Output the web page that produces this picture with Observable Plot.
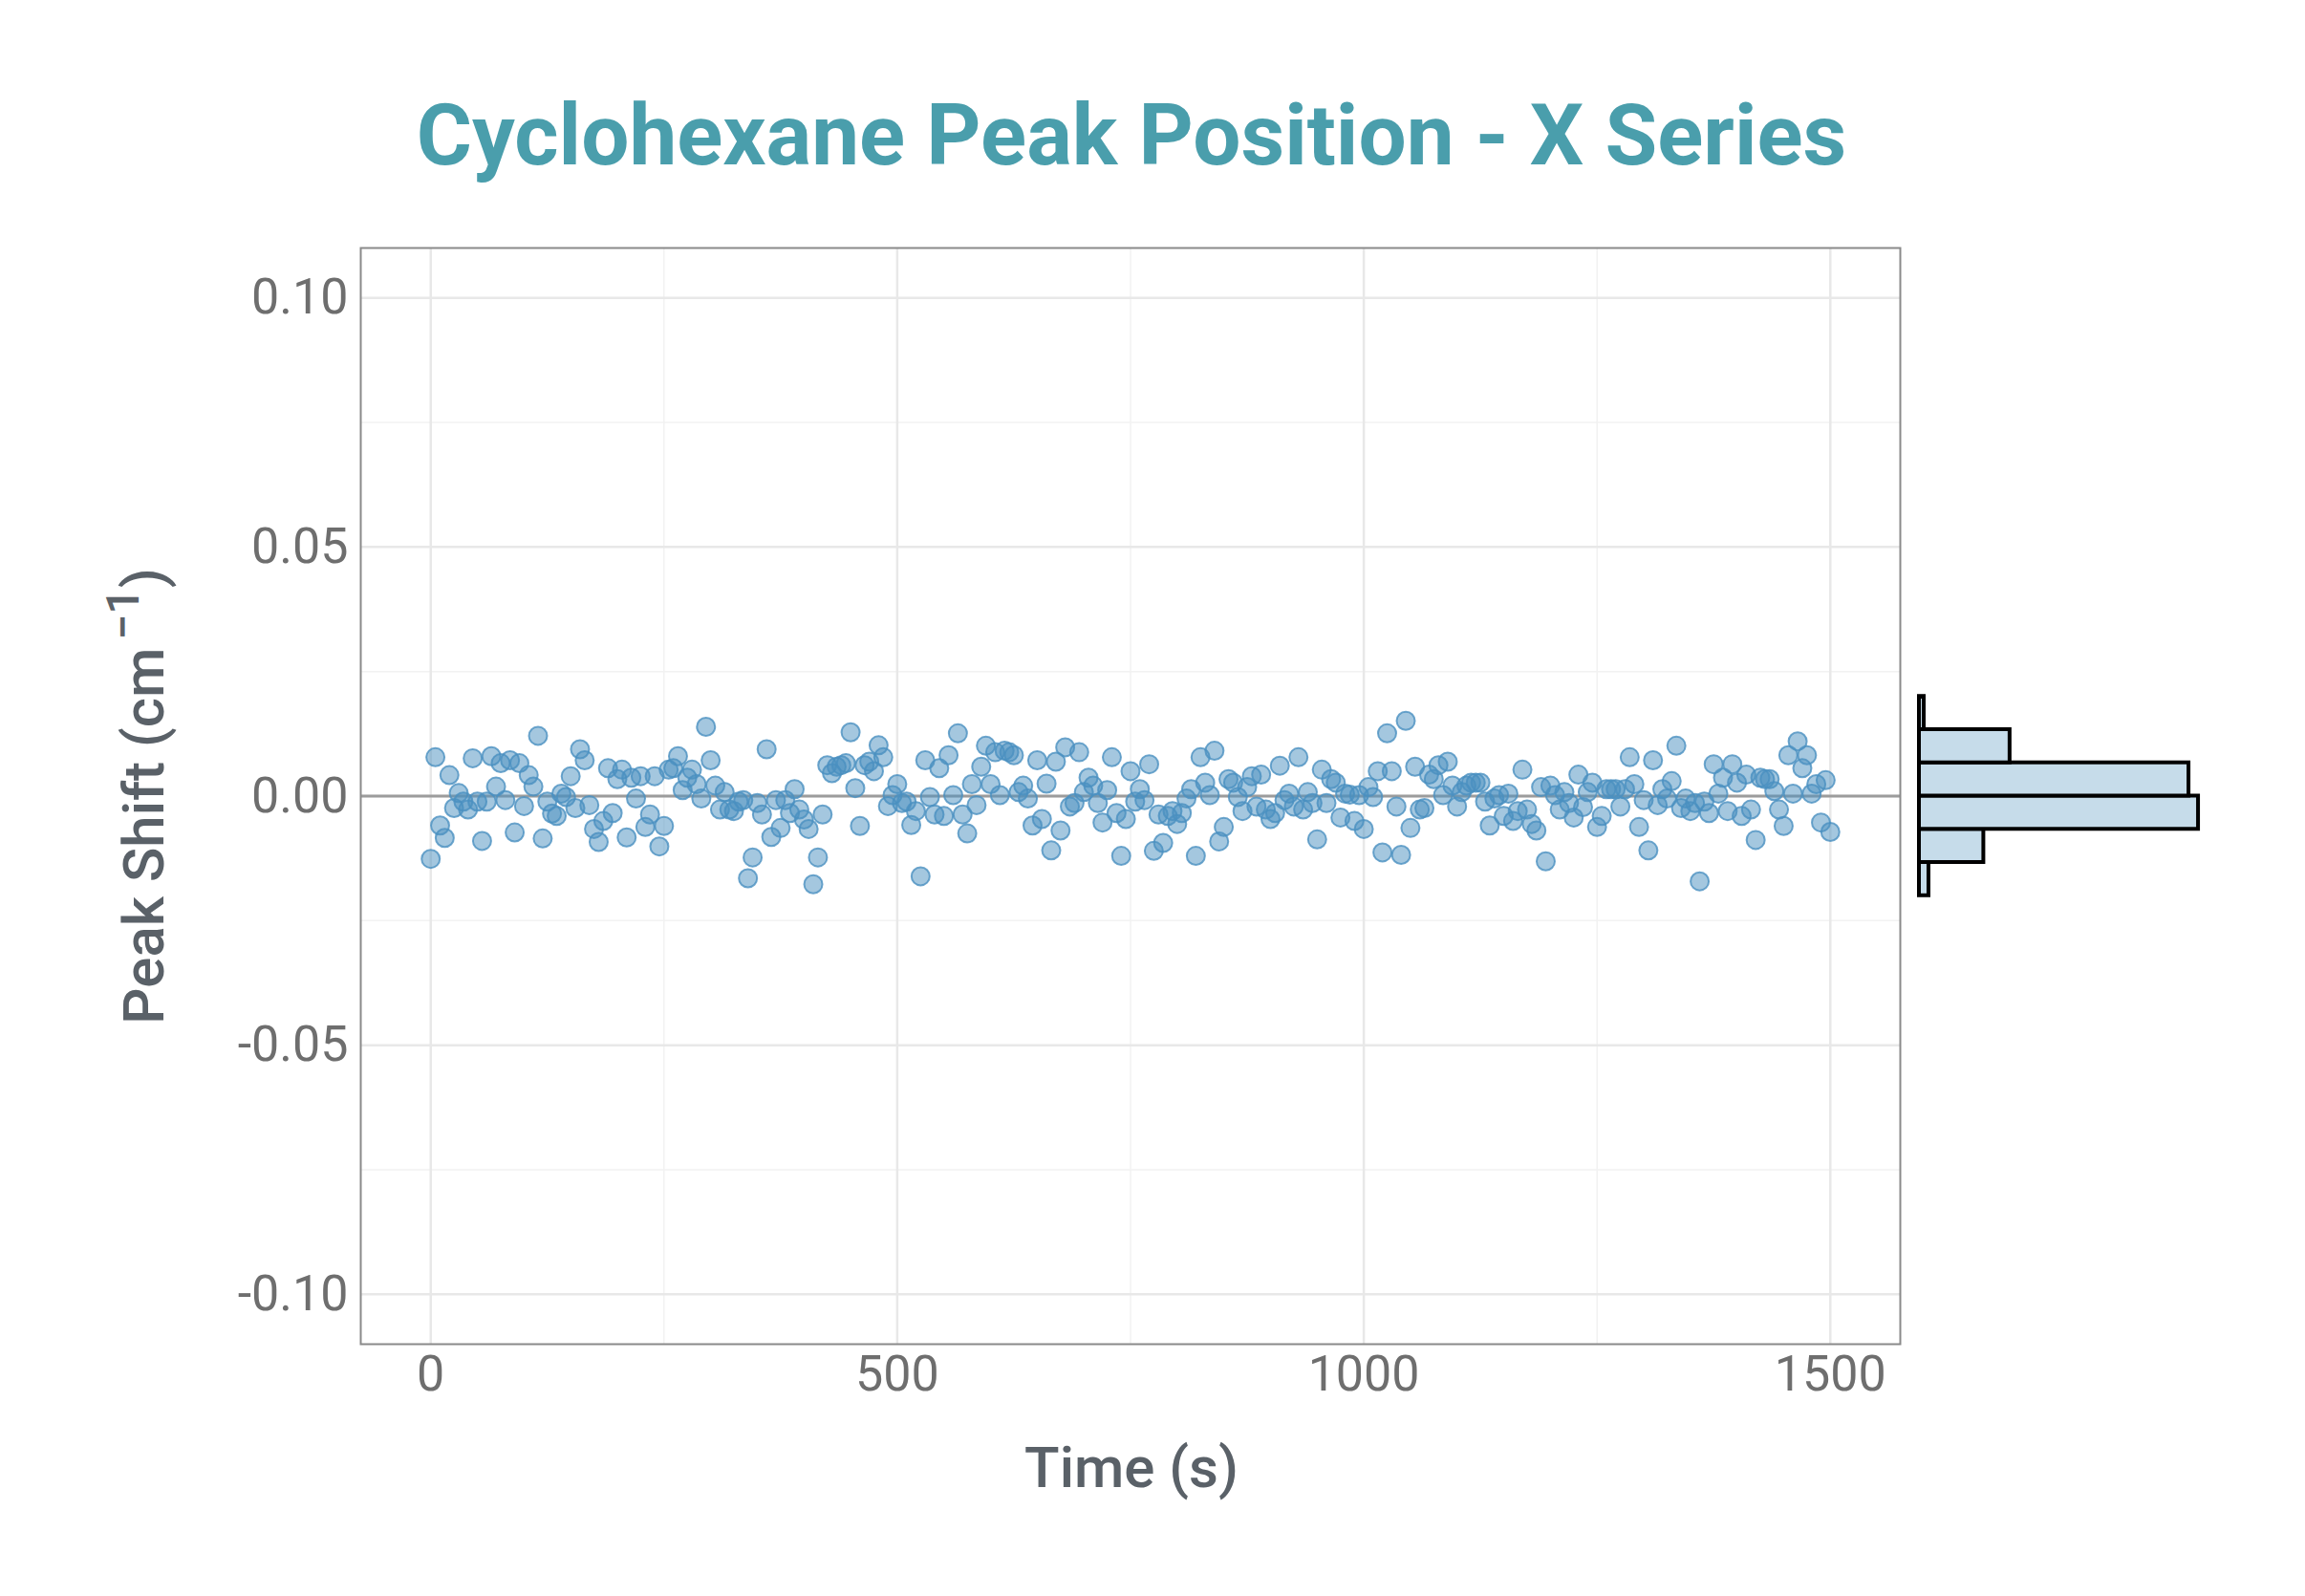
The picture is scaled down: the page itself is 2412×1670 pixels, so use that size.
<!DOCTYPE html>
<html>
<head>
<meta charset="utf-8">
<script src="https://cdn.jsdelivr.net/npm/d3@7"></script>
<script src="https://cdn.jsdelivr.net/npm/@observablehq/plot@0.6"></script>
<style>
html, body { margin: 0; padding: 0; background: #ffffff; }
#wrap { position: relative; width: 2412px; height: 1670px; overflow: hidden; font-family: Roboto, sans-serif; }
#main { position: absolute; left: 0; top: 0; }
#hist { position: absolute; left: 2000px; top: 0; }
</style>
</head>
<body>
<div id="wrap"><div id="main"></div><div id="hist"></div></div>
<script>
// ---- data ----
const titleText = "Cyclohexane Peak Position - X Series";
const xTitle = "Time (s)";
const yTitleMain = "Peak Shift (cm";
const yTitleSup = "\u22121";
const yTitleEnd = ")";

const times = [
  0,5,10,15,20,25,30,35,40,45,50,55,60,65,70,75,80,85,90,95,
  100,105,110,115,120,125,130,135,140,145,150,155,160,165,170,175,180,185,190,195,
  200,205,210,215,220,225,230,235,240,245,250,255,260,265,270,275,280,285,290,295,
  300,305,310,315,320,325,330,335,340,345,350,355,360,365,370,375,380,385,390,395,
  400,405,410,415,420,425,430,435,440,445,450,455,460,465,470,475,480,485,490,495,
  500,505,510,515,520,525,530,535,540,545,550,555,560,565,570,575,580,585,590,595,
  600,605,610,615,620,625,630,635,640,645,650,655,660,665,670,675,680,685,690,695,
  700,705,710,715,720,725,730,735,740,745,750,755,760,765,770,775,780,785,790,795,
  800,805,810,815,820,825,830,835,840,845,850,855,860,865,870,875,880,885,890,895,
  900,905,910,915,920,925,930,935,940,945,950,955,960,965,970,975,980,985,990,995,
  1000,1005,1010,1015,1020,1025,1030,1035,1040,1045,1050,1055,1060,1065,1070,1075,1080,1085,1090,1095,
  1100,1105,1110,1115,1120,1125,1130,1135,1140,1145,1150,1155,1160,1165,1170,1175,1180,1185,1190,1195,
  1200,1205,1210,1215,1220,1225,1230,1235,1240,1245,1250,1255,1260,1265,1270,1275,1280,1285,1290,1295,
  1300,1305,1310,1315,1320,1325,1330,1335,1340,1345,1350,1355,1360,1365,1370,1375,1380,1385,1390,1395,
  1400,1405,1410,1415,1420,1425,1430,1435,1440,1445,1450,1455,1460,1465,1470,1475,1480,1485,1490,1495,
  1500
];

const peakShift = [
  -0.0126, 0.0078, -0.0059, -0.0084, 0.0042, -0.0024, 0.0006, -0.0011, -0.0027, 0.0076,
  -0.0011, -0.0090, -0.0011, 0.0080, 0.0019, 0.0066, -0.0008, 0.0072, -0.0073, 0.0066,
  -0.0020, 0.0042, 0.0019, 0.0121, -0.0085, -0.0011, -0.0035, -0.0040, 0.0005, -0.0002,
  0.0040, -0.0024, 0.0094, 0.0072, -0.0018, -0.0066, -0.0092, -0.0050, 0.0056, -0.0034,
  0.0034, 0.0053, -0.0083, 0.0037, -0.0005, 0.0040, -0.0062, -0.0037, 0.0040, -0.0101,
  -0.0060, 0.0053, 0.0056, 0.0080, 0.0012, 0.0037, 0.0053, 0.0024, -0.0005, 0.0139,
  0.0072, 0.0021, -0.0027, 0.0008, -0.0027, -0.0030, -0.0011, -0.0008, -0.0165, -0.0123,
  -0.0014, -0.0037, 0.0094, -0.0082, -0.0008, -0.0064, -0.0008, -0.0034, 0.0014, -0.0027,
  -0.0047, -0.0066, -0.0177, -0.0123, -0.0037, 0.0062, 0.0046, 0.0059, 0.0062, 0.0066,
  0.0128, 0.0016, -0.0060, 0.0062, 0.0069, 0.0050, 0.0102, 0.0078, -0.0020, 0.0002,
  0.0024, -0.0014, -0.0011, -0.0058, -0.0030, -0.0161, 0.0072, -0.0002, -0.0037, 0.0056,
  -0.0040, 0.0082, 0.0002, 0.0126, -0.0037, -0.0075, 0.0024, -0.0018, 0.0059, 0.0101,
  0.0024, 0.0088, 0.0002, 0.0091, 0.0088, 0.0082, 0.0008, 0.0021, -0.0005, -0.0059,
  0.0072, -0.0046, 0.0025, -0.0109, 0.0069, -0.0069, 0.0098, -0.0021, -0.0014, 0.0088,
  0.0008, 0.0037, 0.0021, -0.0014, -0.0053, 0.0012, 0.0078, -0.0034, -0.0120, -0.0046,
  0.0050, -0.0011, 0.0014, -0.0008, 0.0064, -0.0110, -0.0037, -0.0094, -0.0040, -0.0030,
  -0.0056, -0.0034, -0.0005, 0.0014, -0.0120, 0.0078, 0.0027, 0.0002, 0.0091, -0.0091,
  -0.0062, 0.0034, 0.0027, -0.0002, -0.0030, 0.0018, 0.0040, -0.0021, 0.0043, -0.0027,
  -0.0046, -0.0034, 0.0061, -0.0008, 0.0005, -0.0021, 0.0078, -0.0027, 0.0008, -0.0014,
  -0.0087, 0.0053, -0.0014, 0.0034, 0.0027, -0.0043, 0.0005, 0.0003, -0.0050, 0.0002,
  -0.0066, 0.0018, -0.0002, 0.0050, -0.0113, 0.0126, 0.0050, -0.0021, -0.0118, 0.0151,
  -0.0064, 0.0059, -0.0027, -0.0024, 0.0043, 0.0034, 0.0062, 0.0002, 0.0069, 0.0021,
  -0.0021, 0.0008, 0.0021, 0.0027, 0.0027, 0.0027, -0.0011, -0.0059, -0.0005, 0.0002,
  -0.0040, 0.0005, -0.0050, -0.0030, 0.0053, -0.0027, -0.0056, -0.0069, 0.0018, -0.0131,
  0.0021, 0.0002, -0.0027, 0.0008, -0.0014, -0.0043, 0.0043, -0.0022, 0.0008, 0.0027,
  -0.0062, -0.0040, 0.0014, 0.0014, 0.0014, -0.0021, 0.0014, 0.0078, 0.0024, -0.0062,
  -0.0008, -0.0109, 0.0072, -0.0018, 0.0014, -0.0005, 0.0030, 0.0101, -0.0024, -0.0005,
  -0.0030, -0.0014, -0.0171, -0.0011, -0.0034, 0.0064, 0.0005, 0.0037, -0.0030, 0.0064,
  0.0027, -0.0040, 0.0043, -0.0027, -0.0088, 0.0037, 0.0034, 0.0034, 0.0010, -0.0027,
  -0.0060, 0.0082, 0.0005, 0.0110, 0.0056, 0.0082, 0.0005, 0.0024, -0.0053, 0.0032,
  -0.0072
];

const xTicks = [0, 500, 1000, 1500];
const xMinor = [250, 750, 1250];
const yTicks = [-0.10, -0.05, 0, 0.05, 0.10];
const yMinor = [-0.075, -0.025, 0.025, 0.075];
const histEdges = [-0.02, -0.01333, -0.00667, 0, 0.00667, 0.01333, 0.02];

// ---- build ----
const data = times.map((t, i) => ({t, v: peakShift[i]}));

const X_DOMAIN = [-75, 1575];
const Y_DOMAIN = [-0.11, 0.11];
const M_TOP = 259, M_BOTTOM = 264;

const main = Plot.plot({
  width: 2412,
  height: 1670,
  marginLeft: 377,
  marginRight: 424,
  marginTop: M_TOP,
  marginBottom: M_BOTTOM,
  style: {fontFamily: "Roboto, sans-serif", fontSize: "52px", color: "#6e6e6e", background: "transparent", overflow: "visible"},
  x: {domain: X_DOMAIN},
  y: {domain: Y_DOMAIN},
  marks: [
    Plot.ruleX(xMinor, {stroke: "#f2f2f2", strokeWidth: 1.5}),
    Plot.ruleY(yMinor, {stroke: "#f2f2f2", strokeWidth: 1.5}),
    Plot.ruleX(xTicks, {stroke: "#e8e8e8", strokeWidth: 2.5}),
    Plot.ruleY(yTicks, {stroke: "#e8e8e8", strokeWidth: 2.5}),
    Plot.ruleY([0], {stroke: "#9c9c9c", strokeWidth: 3}),
    Plot.dot(data, {x: "t", y: "v", r: 9.5, fill: "#4a90c0", fillOpacity: 0.5, stroke: "#4a90c0", strokeOpacity: 0.8, strokeWidth: 2}),
    Plot.frame({stroke: "#8a8a8a", strokeWidth: 2}),
    Plot.axisX(xTicks, {tickSize: 0, tickPadding: 12, label: null, tickFormat: d => String(d)}),
    Plot.axisY(yTicks, {tickSize: 0, tickPadding: 13, label: null, tickFormat: d => d.toFixed(2)})
  ]
});

const svg = d3.select(main);
svg.append("text")
  .attr("x", 1184).attr("y", 172)
  .attr("text-anchor", "middle")
  .attr("fill", "#4a9eac")
  .style("font", "700 89px Roboto, sans-serif")
  .text(titleText);
svg.append("text")
  .attr("x", 1184).attr("y", 1556)
  .attr("text-anchor", "middle")
  .attr("fill", "#5a6168")
  .style("font", "500 60px Roboto, sans-serif")
  .text(xTitle);
const yt = svg.append("text")
  .attr("transform", "translate(171,833) rotate(-90)")
  .attr("text-anchor", "middle")
  .attr("fill", "#5a6168")
  .style("font", "500 60px Roboto, sans-serif");
yt.append("tspan").text(yTitleMain);
yt.append("tspan").attr("dx", 8).attr("dy", -26).style("font-size", "48px").text(yTitleSup);
yt.append("tspan").attr("dy", 26).text(yTitleEnd);

document.getElementById("main").appendChild(main);

const hist = Plot.plot({
  width: 340,
  height: 1670,
  marginLeft: 8,
  marginRight: 0,
  marginTop: M_TOP,
  marginBottom: M_BOTTOM,
  style: {background: "transparent", overflow: "visible"},
  x: {domain: [0, 133], axis: null},
  y: {domain: Y_DOMAIN, axis: null},
  marks: [
    Plot.rectX(data, Plot.binY({x: "count"}, {
      y: {value: "v", thresholds: histEdges, domain: [histEdges[0], histEdges[histEdges.length - 1]]},
      fill: "#c6dcea", stroke: "#000000", strokeWidth: 4, inset: 0
    }))
  ]
});
document.getElementById("hist").appendChild(hist);
</script>
</body>
</html>
